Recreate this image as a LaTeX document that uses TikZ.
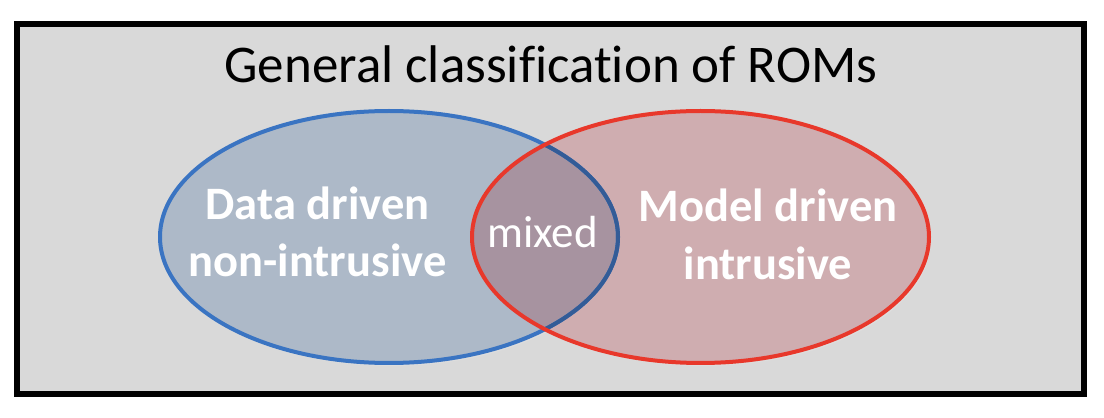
\documentclass[tikz,border=0pt]{standalone}
\usepackage{fontspec}
\setmainfont{Carlito}[Ligatures=NoCommon]
\definecolor{bggray}{HTML}{D9D9D9}
\definecolor{bluefill}{HTML}{ADB9C8}
\definecolor{redfill}{HTML}{CFADB0}
\definecolor{mixfill}{HTML}{A793A0}
\definecolor{bluestroke}{HTML}{3A74C2}
\definecolor{bluedark}{HTML}{335C97}
\definecolor{redstroke}{HTML}{E8382B}
\tikzset{
  lbl/.style={text=white, font=\bfseries\fontsize{46.5}{55}\selectfont, anchor=base, inner sep=0pt},
  mixlbl/.style={text=white, font=\fontsize{45}{54}\selectfont, anchor=base, inner sep=0pt},
  titlelbl/.style={text=black, font=\fontsize{53}{64}\selectfont, anchor=base, inner sep=0pt},
  ell/.style={line width=4pt}
}
\begin{document}
\begin{tikzpicture}[x=1pt,y=1pt]
\useasboundingbox (0,0) rectangle (1104,418);
% outer frame
\draw[line width=6.5pt, fill=bggray] (17,24) rectangle (1084,394);
% title
\node[titlelbl] (title) at (551,335) {General classification of ROMs};
% faint shadows
\fill[black!12, opacity=0.6] (391,178) ellipse [x radius=229, y radius=126];
\fill[black!12, opacity=0.6] (702.5,178) ellipse [x radius=228.5, y radius=126];
% fills
\fill[bluefill] (389,181) ellipse [x radius=229, y radius=126];
\fill[redfill] (700.5,181) ellipse [x radius=228.5, y radius=126];
\begin{scope}
  \clip (389,181) ellipse [x radius=229, y radius=126];
  \fill[mixfill] (700.5,181) ellipse [x radius=228.5, y radius=126];
\end{scope}
% blue outline
\draw[ell, bluestroke] (389,181) ellipse [x radius=229, y radius=126];
\begin{scope}
  \clip (700.5,181) ellipse [x radius=228.5, y radius=126];
  \draw[ell, bluedark] (389,181) ellipse [x radius=229, y radius=126];
\end{scope}
% red outline
\draw[ell, redstroke] (700.5,181) ellipse [x radius=228.5, y radius=126];
% labels
\node[lbl] (data1) at (317.5,198) {Data driven};
\node[lbl] (data2) at (317.5,141) {non-intrusive};
\node[mixlbl] (mixed) at (542.5,170) {mixed};
\node[lbl] (model1) at (768,196) {Model driven};
\node[lbl] (model2) at (768,138) {intrusive};
\end{tikzpicture}
\end{document}
